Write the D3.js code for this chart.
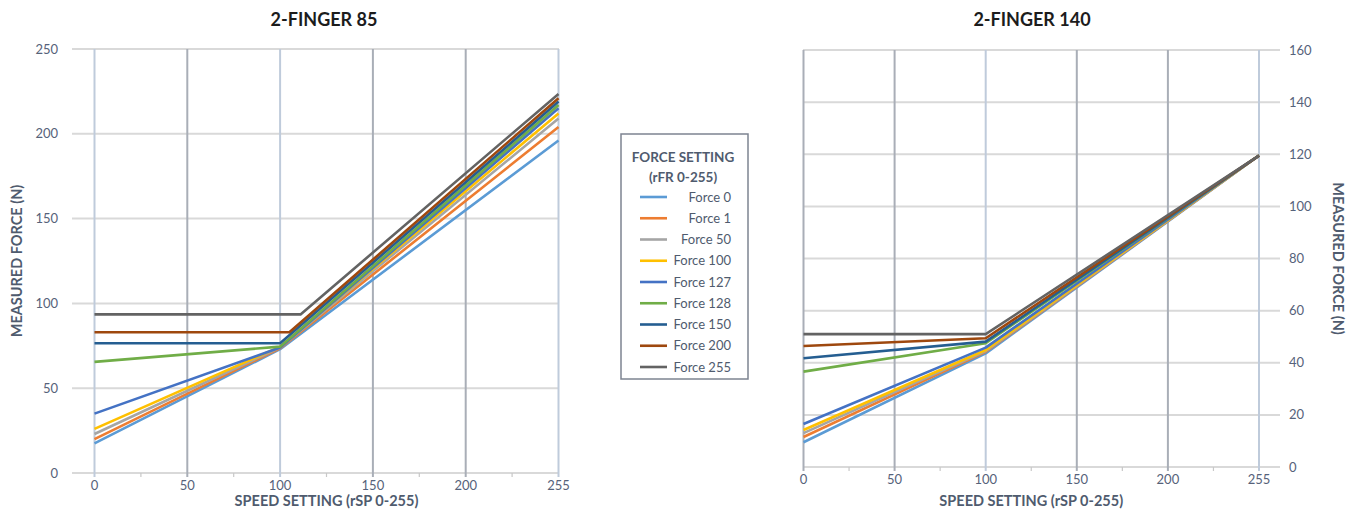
<!DOCTYPE html>
<html lang="en">

<head>
  <meta charset="utf-8">
  <title>2-Finger measured force vs speed setting</title>
  <style>
    body { margin: 0; background: #fff; }
    svg { display: block; font-family: Lato, "Open Sans", sans-serif; }
    .tick-label { fill: #56627a; font-size: 13px; }
    .axis-title { fill: #4f5b6e; font-size: 14.5px; font-weight: bold; }
    .chart-title { fill: #1c1c1c; font-size: 18px; font-weight: bold; }
    .legend-title { fill: #4f5b6e; font-size: 13.5px; font-weight: bold; }
    .legend-text { fill: #4f5b6e; font-size: 13px; }
  </style>
</head>

<body>
  <script src="https://cdn.jsdelivr.net/npm/d3@7"></script>
  <script>

  // ---- data ----
  var speedTicks = [0, 50, 100, 150, 200, 255];
  var forceNames = ["Force 0", "Force 1", "Force 50", "Force 100", "Force 127",
                    "Force 128", "Force 150", "Force 200", "Force 255"];
  var seriesColors = ["#5b9bd5", "#ed7d31", "#a5a5a5", "#ffc000", "#4472c4",
                      "#70ad47", "#255e91", "#9e480e", "#636363"];

  // 2-Finger 85: force at speed 0, knee point, force at speed 255
  var f85Start     = [17.5, 20, 23, 26, 35, 65.5, 76.5, 83, 93.5];
  var f85KneeSpeed = [100, 100, 100, 100, 100, 100, 100, 105, 111];
  var f85Knee      = [73, 73.5, 74, 74.5, 74, 74.5, 76.5, 83, 93.5];
  var f85End       = [196, 204, 209, 212, 215, 217, 219, 221, 223.5];
  var f85YTicks    = [0, 50, 100, 150, 200, 250];

  // 2-Finger 140
  var f140Start     = [9.5, 11.5, 13, 14.2, 16.5, 36.6, 41.7, 46.4, 51];
  var f140KneeSpeed = [100, 100, 100, 100, 100, 100, 100, 100, 100];
  var f140Knee      = [43.6, 44.2, 44.5, 44.9, 45.8, 47.5, 48.1, 49.4, 51];
  var f140End       = [119.5, 119.5, 119.5, 119.5, 119.5, 119.5, 119.5, 119.5, 119.5];
  var f140YTicks    = [0, 20, 40, 60, 80, 100, 120, 140, 160];

  var W = 1354, H = 510;

  var svg = d3.select("body").append("svg")
    .attr("width", W)
    .attr("height", H);

  function buildSeries(start, kneeSpeed, knee, end) {
    return forceNames.map(function(name, i) {
      return {
        name: name,
        color: seriesColors[i],
        points: [[0, start[i]], [kneeSpeed[i], knee[i]], [255, end[i]]]
      };
    });
  }

  function drawChart(cfg) {
    // speed axis is drawn evenly spaced, 200 -> 255 gets the same width as 50 steps
    var x = d3.scaleLinear()
      .domain([0, 200, 255])
      .range([cfg.x0, cfg.x0 + (cfg.x1 - cfg.x0) * 0.8, cfg.x1]);
    var y = d3.scaleLinear()
      .domain([0, cfg.yMax])
      .range([cfg.y0, cfg.y1]);

    var g = svg.append("g");

    // horizontal gridlines
    g.selectAll(".hgrid")
      .data(cfg.yTicks)
      .enter().append("line")
      .attr("x1", cfg.gridLeft)
      .attr("x2", cfg.gridRight)
      .attr("y1", function(d) { return y(d); })
      .attr("y2", function(d) { return y(d); })
      .attr("stroke", "#d9d9d9")
      .attr("stroke-width", 2);

    // minor ticks between speed categories
    var mids = d3.pairs(speedTicks).map(function(p) { return (x(p[0]) + x(p[1])) / 2; });
    g.selectAll(".minor")
      .data(mids)
      .enter().append("line")
      .attr("x1", function(d) { return d; })
      .attr("x2", function(d) { return d; })
      .attr("y1", cfg.y0)
      .attr("y2", cfg.y0 + 4)
      .attr("stroke", "#c8c8c8")
      .attr("stroke-width", 1.2);

    // vertical gridlines
    g.selectAll(".vgrid")
      .data(speedTicks)
      .enter().append("line")
      .attr("x1", function(d) { return x(d); })
      .attr("x2", function(d) { return x(d); })
      .attr("y1", cfg.y1)
      .attr("y2", cfg.y0 + 4)
      .attr("stroke", function(d, i) { return cfg.vColors[i]; })
      .attr("stroke-width", 2);

    // y tick labels
    g.selectAll(".ylab")
      .data(cfg.yTicks)
      .enter().append("text")
      .attr("class", "tick-label")
      .attr("x", cfg.yLabelX)
      .attr("y", function(d) { return y(d); })
      .attr("dy", "0.35em")
      .attr("text-anchor", cfg.yLabelAnchor)
      .text(function(d) { return d; });

    // x tick labels
    g.selectAll(".xlab")
      .data(speedTicks)
      .enter().append("text")
      .attr("class", "tick-label")
      .attr("x", function(d) { return x(d); })
      .attr("y", cfg.y0 + 12)
      .attr("dy", "0.35em")
      .attr("text-anchor", "middle")
      .text(function(d) { return d; });

    // axis titles
    g.append("text")
      .attr("class", "axis-title")
      .attr("x", (cfg.x0 + cfg.x1) / 2)
      .attr("y", 501)
      .attr("dy", "0.35em")
      .attr("text-anchor", "middle")
      .text("SPEED SETTING (rSP 0-255)");

    g.append("text")
      .attr("class", "axis-title")
      .attr("transform", "translate(" + cfg.yTitleX + "," + (cfg.y0 + cfg.y1) / 2 + ") rotate(" + cfg.yTitleRot + ")")
      .attr("dy", "0.35em")
      .attr("text-anchor", "middle")
      .text("MEASURED FORCE (N)");

    g.append("text")
      .attr("class", "chart-title")
      .attr("x", cfg.titleX)
      .attr("y", 20)
      .attr("dy", "0.35em")
      .attr("text-anchor", "middle")
      .text(cfg.title);

    // series
    var line = d3.line()
      .x(function(d) { return x(d[0]); })
      .y(function(d) { return y(d[1]); });

    g.selectAll(".series")
      .data(cfg.series)
      .enter().append("path")
      .attr("class", "series")
      .attr("d", function(d) { return line(d.points); })
      .attr("fill", "none")
      .attr("stroke", function(d) { return d.color; })
      .attr("stroke-width", 2.6)
      .attr("stroke-linejoin", "round");
  }

  var blueGrid = "#bfcbdb", grayGrid = "#a9aeb7";

  drawChart({
    title: "2-FINGER 85", titleX: 324,
    x0: 94.5, x1: 558.5, y0: 473, y1: 49, yMax: 250,
    gridLeft: 72, gridRight: 559,
    yTicks: f85YTicks, yLabelX: 58, yLabelAnchor: "end",
    yTitleX: 17, yTitleRot: -90,
    vColors: [blueGrid, grayGrid, blueGrid, grayGrid, grayGrid, blueGrid],
    series: buildSeries(f85Start, f85KneeSpeed, f85Knee, f85End)
  });

  drawChart({
    title: "2-FINGER 140", titleX: 1032,
    x0: 803.5, x1: 1259, y0: 467, y1: 50, yMax: 160,
    gridLeft: 803, gridRight: 1280,
    yTicks: f140YTicks, yLabelX: 1289, yLabelAnchor: "start",
    yTitleX: 1338, yTitleRot: 90,
    vColors: [grayGrid, grayGrid, blueGrid, grayGrid, grayGrid, blueGrid],
    series: buildSeries(f140Start, f140KneeSpeed, f140Knee, f140End)
  });

  // legend
  var legend = svg.append("g");

  legend.append("rect")
    .attr("x", 621)
    .attr("y", 134)
    .attr("width", 127)
    .attr("height", 245)
    .attr("fill", "#fff")
    .attr("stroke", "#7d8491")
    .attr("stroke-width", 1.5);

  legend.append("text")
    .attr("class", "legend-title")
    .attr("x", 683)
    .attr("y", 157)
    .attr("dy", "0.35em")
    .attr("text-anchor", "middle")
    .text("FORCE SETTING");

  legend.append("text")
    .attr("class", "legend-title")
    .attr("x", 683)
    .attr("y", 177)
    .attr("dy", "0.35em")
    .attr("text-anchor", "middle")
    .text("(rFR 0-255)");

  var items = legend.selectAll(".legend-item")
    .data(forceNames)
    .enter().append("g")
    .attr("class", "legend-item")
    .attr("transform", function(d, i) { return "translate(0," + (197 + i * 21.25) + ")"; });

  items.append("line")
    .attr("x1", 640)
    .attr("x2", 667)
    .attr("stroke", function(d, i) { return seriesColors[i]; })
    .attr("stroke-width", 2.6);

  items.append("text")
    .attr("class", "legend-text")
    .attr("x", 731)
    .attr("dy", "0.35em")
    .attr("text-anchor", "end")
    .text(function(d) { return d; });

  </script>
</body>

</html>
